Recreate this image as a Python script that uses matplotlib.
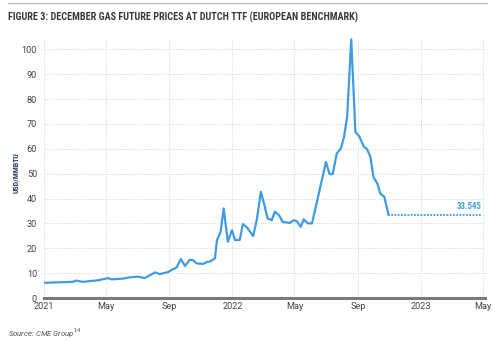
import pandas as pd
import matplotlib.pyplot as plt
from matplotlib.lines import Line2D

# December TTF gas future, USD/MMBtu
dates = [
    "2021-01-01", "2021-02-26", "2021-03-04", "2021-03-17", "2021-04-15",
    "2021-05-05", "2021-05-12", "2021-06-03", "2021-06-16", "2021-07-02",
    "2021-07-15", "2021-08-04", "2021-08-13", "2021-08-29", "2021-09-07",
    "2021-09-15", "2021-09-23", "2021-10-01", "2021-10-10", "2021-10-16",
    "2021-10-24", "2021-11-05", "2021-11-14", "2021-11-18", "2021-11-28",
    "2021-12-02", "2021-12-09", "2021-12-15", "2021-12-23", "2021-12-31",
    "2022-01-06", "2022-01-15", "2022-01-21", "2022-01-29", "2022-02-10",
    "2022-02-17", "2022-02-25", "2022-03-03", "2022-03-10", "2022-03-18",
    "2022-03-24", "2022-04-01", "2022-04-08", "2022-04-22", "2022-04-30",
    "2022-05-06", "2022-05-13", "2022-05-19", "2022-05-27", "2022-06-04",
    "2022-06-15", "2022-07-01", "2022-07-08", "2022-07-14", "2022-07-22",
    "2022-07-30", "2022-08-05", "2022-08-11", "2022-08-19", "2022-08-27",
    "2022-09-04", "2022-09-12", "2022-09-19", "2022-09-25", "2022-10-01",
    "2022-10-09", "2022-10-14", "2022-10-22", "2022-10-30",
]
prices = [
    6.1, 6.5, 7.0, 6.5, 7.1,
    8.0, 7.5, 7.8, 8.3, 8.6,
    8.0, 10.3, 9.6, 10.4, 11.5,
    12.3, 15.7, 12.9, 15.3, 15.3,
    13.9, 13.7, 14.6, 14.6, 15.9,
    23.3, 26.6, 36.0, 22.6, 27.3,
    23.3, 23.3, 29.7, 28.4, 24.9,
    31.3, 42.7, 38.0, 32.0, 31.3,
    34.7, 33.3, 30.6, 30.2, 31.3,
    30.8, 28.6, 31.6, 30.0, 30.0,
    40.0, 54.7, 49.8, 49.8, 58.1,
    60.1, 64.8, 72.8, 104.0, 66.8,
    64.8, 61.0, 59.7, 56.8, 48.7,
    45.8, 42.0, 40.7, 33.545,
]
last_date = "2022-10-30"
last_price = 33.545
flat_end = "2023-04-28"

x_ticks = ["2021-01-01", "2021-05-01", "2021-09-01", "2022-01-01",
           "2022-05-01", "2022-09-01", "2023-01-01", "2023-05-01"]
x_labels = ["2021", "May", "Sep", "2022", "May", "Sep", "2023", "May"]
y_ticks = list(range(0, 101, 10))

blue = "#3f9ce2"
narrow = ["Roboto Condensed", "Roboto", "DejaVu Sans"]


def fit_width(fig, txt, width_px, height_px=None):
    """Scale a text's font size so it spans the given pixels."""
    fig.canvas.draw()
    bb = txt.get_window_extent()
    span = bb.width if height_px is None else bb.height
    target = width_px if height_px is None else height_px
    txt.set_fontsize(txt.get_fontsize() * target / span)


fig = plt.figure(figsize=(5.0, 3.46), dpi=100)
ax = fig.add_axes([0.088, 0.1387, 0.882, 0.7513])

ax.plot(pd.to_datetime(dates), prices, color=blue, lw=1.6,
        solid_joinstyle="round", zorder=3)
ax.plot(pd.to_datetime([last_date, flat_end]), [last_price, last_price],
        color=blue, lw=1.3, ls=(0, (1, 0.8)), zorder=3)
val = ax.text(pd.to_datetime(flat_end), last_price + 1.3, f"{last_price:.3f}",
              color=blue, fontsize=6.3, fontweight="bold", ha="right",
              va="bottom", family=narrow)

ax.set_xlim(pd.to_datetime("2021-01-01"), pd.to_datetime("2023-05-05"))
ax.set_ylim(0, 104.5)
ax.set_xticks(pd.to_datetime(x_ticks))
ax.set_xticklabels(x_labels, family=["Roboto", "DejaVu Sans"])
ax.set_yticks(y_ticks)
ax.set_yticklabels([str(v) for v in y_ticks], family=["Roboto", "DejaVu Sans"])
ax.tick_params(axis="both", length=0, labelsize=6.6, colors="#444444")
ax.tick_params(axis="x", pad=3)
ax.tick_params(axis="y", pad=5)

ax.grid(True, color="#d4d4d4", lw=0.7, ls=(0, (1, 1.5)))
ax.set_axisbelow(True)
for side in ["top", "right", "left"]:
    ax.spines[side].set_visible(False)
ax.spines["bottom"].set_color("#7a7a7a")
ax.spines["bottom"].set_linewidth(2.2)

# y label placed by hand in figure coordinates
ylab = fig.text(0.032, 0.5, "USD/MMBTU", fontsize=5.6, fontweight="bold",
                color="#2c3e60", rotation=90, ha="center", va="center",
                family=narrow)

# header rule and title
fig.add_artist(Line2D([0.016, 0.974], [0.991, 0.991], color="#bbbbbb", lw=1.0))
title = fig.text(0.016, 0.951,
                 "FIGURE 3: DECEMBER GAS FUTURE PRICES AT DUTCH TTF (EUROPEAN BENCHMARK)",
                 fontsize=7.6, fontweight="bold", color="#3a3a3a",
                 ha="left", va="center", family=narrow)
fig.text(0.016, 0.038, "Source: CME Group$^{14}$", fontsize=5.6, style="italic",
         color="#555555", ha="left", va="center", family=["Roboto", "DejaVu Sans"])

fit_width(fig, title, 344)
fit_width(fig, ylab, None, 41)
fit_width(fig, val, 25)

fig.savefig("out.png", dpi=100)
